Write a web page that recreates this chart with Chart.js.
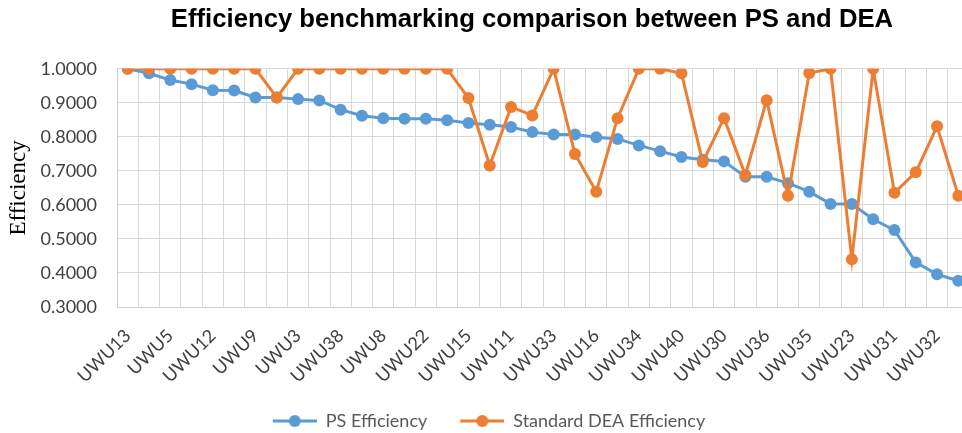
<!DOCTYPE html>
<html>
<head>
<meta charset="utf-8">
<script src="https://cdn.jsdelivr.net/npm/chart.js@4.4.1/dist/chart.umd.min.js"></script>
<style>
  html, body { margin: 0; padding: 0; overflow: hidden; background: #fff; }
  #wrap { width: 962px; height: 433px; overflow: hidden; }
  canvas { display: block; }
</style>
</head>
<body>
<!-- the source figure is cropped at the right edge, so the canvas runs a little past the window -->
<div id="wrap"><canvas id="myChart" width="982" height="433"></canvas></div>
<script>
// units in ranking order (odd positions carry no visible label in the source)
const units = [
  'UWU13', 'UWU1', 'UWU5', 'UWU2', 'UWU12', 'UWU4', 'UWU9', 'UWU6',
  'UWU3', 'UWU7', 'UWU38', 'UWU10', 'UWU8', 'UWU14', 'UWU22', 'UWU17',
  'UWU15', 'UWU18', 'UWU11', 'UWU19', 'UWU33', 'UWU20', 'UWU16', 'UWU21',
  'UWU34', 'UWU24', 'UWU40', 'UWU25', 'UWU30', 'UWU26', 'UWU36', 'UWU27',
  'UWU35', 'UWU28', 'UWU23', 'UWU29', 'UWU31', 'UWU37', 'UWU32', 'UWU39'
];

const psEfficiency = [
  1.000, 0.987, 0.967, 0.955, 0.937, 0.936, 0.916, 0.916, 0.911, 0.907,
  0.880, 0.862, 0.855, 0.853, 0.853, 0.849, 0.841, 0.836, 0.829, 0.814,
  0.807, 0.807, 0.799, 0.794, 0.775, 0.758, 0.741, 0.733, 0.728, 0.683,
  0.683, 0.664, 0.639, 0.603, 0.603, 0.558, 0.526, 0.431, 0.396, 0.377
];

const deaEfficiency = [
  1.000, 1.000, 1.000, 1.000, 1.000, 1.000, 1.000, 0.916, 1.000, 1.000,
  1.000, 1.000, 1.000, 1.000, 1.000, 1.000, 0.914, 0.716, 0.888, 0.863,
  1.000, 0.750, 0.639, 0.855, 1.000, 1.000, 0.987, 0.726, 0.855, 0.688,
  0.908, 0.627, 0.988, 1.000, 0.440, 1.000, 0.636, 0.696, 0.831, 0.627
];

const yMin = 0.3;
const yMax = 1.0;
const yStep = 0.1;

const blue = '#5B9BD5';
const orange = '#ED7D31';

// line + marker swatch like the spreadsheet legend (small blank on the left)
function legendMark(color) {
  const c = document.createElement('canvas');
  c.width = 53; c.height = 14;
  const g = c.getContext('2d');
  g.strokeStyle = color;
  g.lineWidth = 3;
  g.beginPath(); g.moveTo(9, 7); g.lineTo(53, 7); g.stroke();
  g.fillStyle = color;
  g.beginPath(); g.arc(31, 7, 6, 0, Math.PI * 2); g.fill();
  return c;
}
const marks = [legendMark(blue), legendMark(orange)];

// title sits a bit left of the plot centre in the source
const titleNudge = {
  id: 'titleNudge',
  afterLayout(chart) {
    if (chart.titleBlock) {
      chart.titleBlock.left -= 11;
      chart.titleBlock.right -= 11;
    }
  }
};

const data = {
  labels: units,
  datasets: [{
    label: 'PS Efficiency',
    data: psEfficiency,
    borderColor: blue,
    backgroundColor: blue,
    pointBackgroundColor: blue,
    borderWidth: 3,
    pointRadius: 6,
    pointBorderWidth: 0,
    order: 1
  }, {
    label: 'Standard DEA Efficiency',
    data: deaEfficiency,
    borderColor: orange,
    backgroundColor: orange,
    pointBackgroundColor: orange,
    borderWidth: 3,
    pointRadius: 6,
    pointBorderWidth: 0,
    order: 0
  }]
};

const config = {
  type: 'line',
  data,
  plugins: [titleNudge],
  options: {
    responsive: false,
    animation: false,
    layout: { padding: { left: 0, right: 13, top: 0, bottom: -7 } },
    plugins: {
      title: {
        display: true,
        text: 'Efficiency benchmarking comparison between PS and DEA',
        fullSize: false,
        color: '#000',
        font: { family: 'Liberation Sans', size: 25.7, weight: 'bold' },
        padding: { top: 4, bottom: 34 }
      },
      legend: {
        position: 'bottom',
        labels: {
          usePointStyle: true,
          pointStyleWidth: 53,
          padding: 24,
          color: '#595959',
          font: { family: 'Lato', size: 18 },
          generateLabels(chart) {
            const items = Chart.defaults.plugins.legend.labels.generateLabels(chart);
            items.forEach(it => { it.pointStyle = marks[it.datasetIndex]; });
            return items.sort((a, b) => a.datasetIndex - b.datasetIndex);
          }
        }
      },
      tooltip: { enabled: false }
    },
    scales: {
      x: {
        offset: true,
        grid: { offset: true, color: '#d9d9d9', lineWidth: 1, drawTicks: false },
        border: { color: '#d0d0d0' },
        ticks: {
          autoSkip: false,
          minRotation: 45,
          maxRotation: 45,
          padding: 18,
          color: '#404040',
          font: { family: 'Lato', size: 18 },
          callback: (v, i) => (i % 2 === 0 ? units[i] : '')
        },
        afterFit(scale) {
          scale.height = 81;
          scale.paddingLeft = 0;
          scale.paddingRight = 0;
        }
      },
      y: {
        min: yMin,
        max: yMax,
        grid: { color: '#d9d9d9', lineWidth: 1, drawTicks: false },
        border: { color: '#d0d0d0' },
        ticks: {
          stepSize: yStep,
          padding: 20,
          color: '#404040',
          font: { family: 'Lato', size: 18 },
          callback: v => Number(v).toFixed(4)
        },
        title: {
          display: true,
          text: 'Efficiency',
          color: '#000',
          font: { family: 'Liberation Serif', size: 23 },
          padding: { top: 5, bottom: 0 }
        },
        afterFit(scale) { scale.width = 117; }
      }
    }
  }
};

var myChart = new Chart(document.getElementById('myChart'), config);
</script>
</body>
</html>
